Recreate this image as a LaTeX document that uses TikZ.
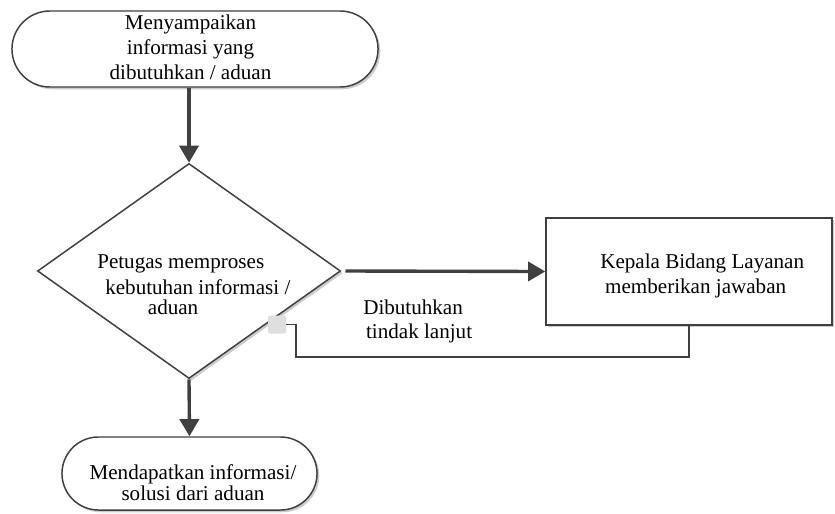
\documentclass[tikz,border=0pt]{standalone}
\usepackage{fontspec}
\setmainfont{Liberation Serif}
\usetikzlibrary{arrows.meta,shapes.geometric,shapes.misc,shadows}
\definecolor{lineg}{HTML}{404040}

\begin{document}
\begin{tikzpicture}[x=0.025cm, y=-0.025cm,
    font=\fontsize{15pt}{17.8pt}\selectfont,
    box/.style={draw=lineg, line width=1.05pt, fill=white,
      drop shadow={shadow xshift=1.6pt, shadow yshift=-1.6pt, fill=black!20, opacity=1}},
    term/.style={box, rounded rectangle, inner sep=0pt},
    txt/.style={align=left, anchor=north west, inner sep=0pt},
    flow/.style={draw=lineg, line width=2.4pt, -{Triangle[length=4.3mm, width=4.8mm]}}]
  \useasboundingbox (0,0) rectangle (835,513);

  \node[term, minimum width=9.15cm, minimum height=1.9cm] (start) at (195,49) {};
  \node[align=center, inner sep=0pt] (starttext) at (190.5,47) {Menyampaikan\\informasi yang\\dibutuhkan / aduan};

  \node[box, diamond, minimum width=7.575cm, minimum height=5.375cm, inner sep=0pt] (proc) at (189,271) {};
  \node[txt] (proctext) at (97,254) {Petugas memproses\\[0.7pt]\hspace*{5.7pt}kebutuhan informasi /\\[-3.6pt]\hspace*{36pt}aduan};

  \node[box, minimum width=7.15cm, minimum height=2.675cm] (answer) at (689,271.5) {};
  \node[txt] (answertext) at (600,254) {Kepala Bidang Layanan\\\hspace*{3.5pt}memberikan jawaban};

  \node[term, minimum width=6.375cm, minimum height=1.825cm] (finish) at (189.5,473.5) {};
  \node[align=center, inner sep=0pt] (finishtext) at (193,482.5) {Mendapatkan informasi/\\[-2.9pt]solusi dari aduan};

  \node[fill=black!13, rounded corners=1.5pt, minimum size=0.45cm, inner sep=0pt] (dock) at (277,324.5) {};
  \coordinate (turn) at (296,357);
  \node[txt] (yeslabel) at (363,300) {Dibutuhkan\\[-1.2pt]\hspace*{2pt}tindak lanjut};

  \draw[flow] (proc.north |- start.south) -- (proc.north);
  \draw[flow, shorten <=3pt] (proc.east) -- (answer.west);
  \draw[flow] (proc.south) -- (finish.north);
  \draw[draw=lineg, line width=1.4pt] (answer.south) |- (turn) |- (dock.east);
\end{tikzpicture}
\end{document}
